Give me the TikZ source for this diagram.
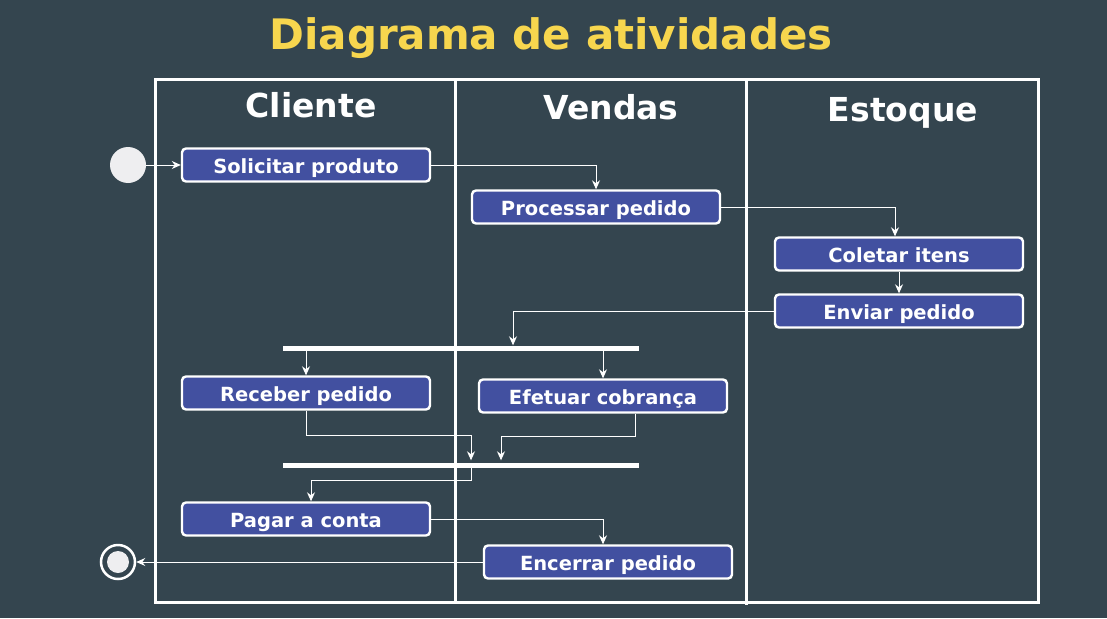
\documentclass[tikz,border=0pt]{standalone}
\usepackage{fontspec}
\setmainfont{DejaVu Sans}
\usetikzlibrary{arrows.meta, positioning, calc}
\usepackage{xcolor}
\definecolor{slidebg}{RGB}{52,69,79}
\definecolor{actblue}{RGB}{66,80,160}
\definecolor{titleyellow}{RGB}{247,214,78}
\definecolor{startgray}{RGB}{238,238,240}

\begin{document}
\begin{tikzpicture}[
  x = 1pt, y = -1pt,
  font = \bfseries,
  %
  % ── Node styles ─────────────────────────────────────────────────
  act/.style     = {draw=white, line width=2.4pt, fill=actblue,
                    rounded corners=4pt, text=white,
                    minimum width=248pt, minimum height=33pt,
                    text height=16pt, text depth=0pt,
                    font=\fontsize{19.5}{22}\selectfont\bfseries},
  lane/.style    = {text=white, font=\fontsize{33}{38}\selectfont\bfseries},
  bar/.style     = {fill=white, inner sep=0pt,
                    minimum width=356pt, minimum height=5pt},
  arrow/.style   = {-{Stealth[length=9pt, width=8pt]}, white, line width=1pt},
  frame/.style   = {draw=white, line width=3pt},
]

%% ═══════════════════════════════════════════════════════════════════
%% BACKGROUND and title
%% ═══════════════════════════════════════════════════════════════════
\useasboundingbox (0,0) rectangle (1107,618);
\fill[slidebg] (0,0) rectangle (1107,618);

\node[text=titleyellow, font=\fontsize{42}{48}\selectfont\bfseries]
  (title) at (551,38) {Diagrama de atividades};

%% ═══════════════════════════════════════════════════════════════════
%% SWIMLANES
%% ═══════════════════════════════════════════════════════════════════
\draw[frame] (155,79) rectangle (1038,602);
\draw[frame] (455,79) -- (455,602);
\draw[frame] (746,79) -- (746,605);

\node[lane] (cliente) at (311,105) {Cliente};
\node[lane] (vendas)  at (611,107) {Vendas};
\node[lane] (estoque) at (903,113) {Estoque};

%% ═══════════════════════════════════════════════════════════════════
%% ACTIVITIES
%% ═══════════════════════════════════════════════════════════════════
\node[circle, fill=startgray, minimum size=36pt, inner sep=0pt]
  (inicio) at (128,165) {};

\node[act] (solicitar) at (306,165) {Solicitar produto};
\node[act] (processar) at (596,207) {Processar pedido};
\node[act] (coletar)   at (899,254) {Coletar itens};
\node[act] (enviar)    at (899,311) {Enviar pedido};

% Fork and join bars
\node[bar] (fork) at (461,348) {};
\node[bar] (join) at (461,465) {};

\node[act] (receber)   at (306,393) {Receber pedido};
\node[act] (cobranca)  at (603,396) {Efetuar cobrança};
\node[act] (pagar)     at (306,519) {Pagar a conta};
\node[act] (encerrar)  at (608,562) {Encerrar pedido};

% Final node: ring with dot
\node[circle, draw=white, line width=2.5pt, minimum size=34pt, inner sep=0pt]
  (fim) at (118,562) {};
\node[circle, fill=startgray, minimum size=22pt, inner sep=0pt]
  (fim-dot) at (fim) {};

%% ── Arrows ───────────────────────────────────────────────────────
\draw[arrow] (inicio.east)    -- (solicitar.west);
\draw[arrow] (solicitar.east) -| (processar.north);
\draw[arrow] (processar.east) -| ([xshift=-4pt]coletar.north);
\draw[arrow] (coletar)        -- (enviar);
\draw[arrow] (enviar.west)    -| ([xshift=52pt]fork.north);

\draw[arrow] (fork.south -| receber.north)  -- (receber.north);
\draw[arrow] (fork.south -| cobranca.north) -- (cobranca.north);

\draw[arrow] (receber.south) -- ++(0,25) -| ([xshift=10pt, yshift=2pt]join.north);
\draw[arrow] ([xshift=32pt]cobranca.south) -- ++(0,23)
  -| ([xshift=40pt, yshift=2pt]join.north);

\draw[arrow] ([xshift=10pt]join.south) -- ++(0,13) -| ([xshift=5pt]pagar.north);
\draw[arrow] (pagar.east)    -| ([xshift=-5pt]encerrar.north);
\draw[arrow] (encerrar.west) -- (fim.east);

\end{tikzpicture}
\end{document}
